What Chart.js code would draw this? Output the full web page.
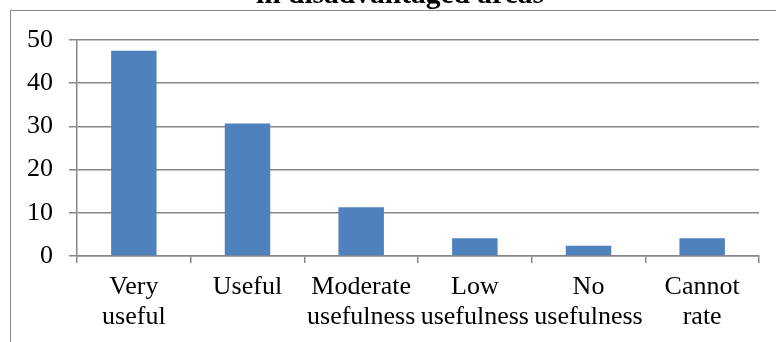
<!DOCTYPE html>
<html>
<head>
<meta charset="utf-8">
<script src="https://cdn.jsdelivr.net/npm/chart.js@4/dist/chart.umd.min.js"></script>
<style>
  html, body { margin: 0; padding: 0; background: #fff; }
  #wrap { position: relative; width: 776px; height: 342px; overflow: hidden; }
  #frame { position: absolute; left: 10px; top: 10px; right: 0; bottom: 0;
           border-left: 1.5px solid #8a8a8a; border-top: 1.5px solid #8a8a8a; }
  #box { position: absolute; left: 0; top: -22px; width: 776px; height: 364px; }
</style>
</head>
<body>
<div id="wrap">
  <div id="frame"></div>
  <div id="box"><canvas id="c"></canvas></div>
</div>
<script>
// Ratings of usefulness (percent of respondents)
const categories = [
  ["Very", "useful"],
  ["Useful"],
  ["Moderate", "usefulness"],
  ["Low", "usefulness"],
  ["No", "usefulness"],
  ["Cannot", "rate"]
];
const shares = [47.5, 30.7, 11.3, 4.1, 2.4, 4.1];
const yTicks = [0, 10, 20, 30, 40, 50];
const titleText = "in disadvantaged areas";

const GRID = "#878787";
const SERIF = "'Liberation Serif', 'Times New Roman', serif";

// Nudge the title box so it centres on the whole frame rather than the padded area
const titleShift = {
  id: "titleShift",
  afterLayout(chart) {
    const t = chart.titleBlock;
    if (t) { t.left += 8.5; t.right += 8.5; }
  }
};

new Chart(document.getElementById("c"), {
  type: "bar",
  data: {
    labels: categories,
    datasets: [{
      data: shares,
      backgroundColor: "#4F81BD",
      borderWidth: 0,
      barPercentage: 0.4,
      categoryPercentage: 1.0
    }]
  },
  options: {
    responsive: true,
    maintainAspectRatio: false,
    animation: false,
    layout: { padding: { left: 24, right: 17, top: 0, bottom: 0 } },
    plugins: {
      legend: { display: false },
      tooltip: { enabled: false },
      title: {
        display: true,
        text: titleText,
        color: "#000",
        font: { family: SERIF, size: 29.5, weight: "bold" },
        padding: { top: 0, bottom: 26.6 }
      }
    },
    scales: {
      x: {
        grid: {
          offset: true,
          drawOnChartArea: false,
          drawTicks: true,
          tickLength: 7,
          color: GRID,
          lineWidth: 1.5
        },
        border: { display: true, color: GRID, width: 1.5 },
        ticks: {
          color: "#000",
          font: { family: SERIF, size: 26, lineHeight: 1.15 },
          padding: 9,
          maxRotation: 0,
          autoSkip: false
        },
        afterFit(scale) { scale.height = 86; }
      },
      y: {
        min: 0,
        max: 50,
        afterBuildTicks(scale) { scale.ticks = yTicks.map(v => ({ value: v })); },
        grid: {
          color: GRID,
          lineWidth: 1.5,
          drawTicks: true,
          tickLength: 8
        },
        border: { display: true, color: GRID, width: 1.5 },
        ticks: {
          color: "#000",
          font: { family: SERIF, size: 26 },
          padding: 16
        },
        afterFit(scale) { scale.width = 53; }
      }
    }
  },
  plugins: [titleShift]
});
</script>
</body>
</html>
